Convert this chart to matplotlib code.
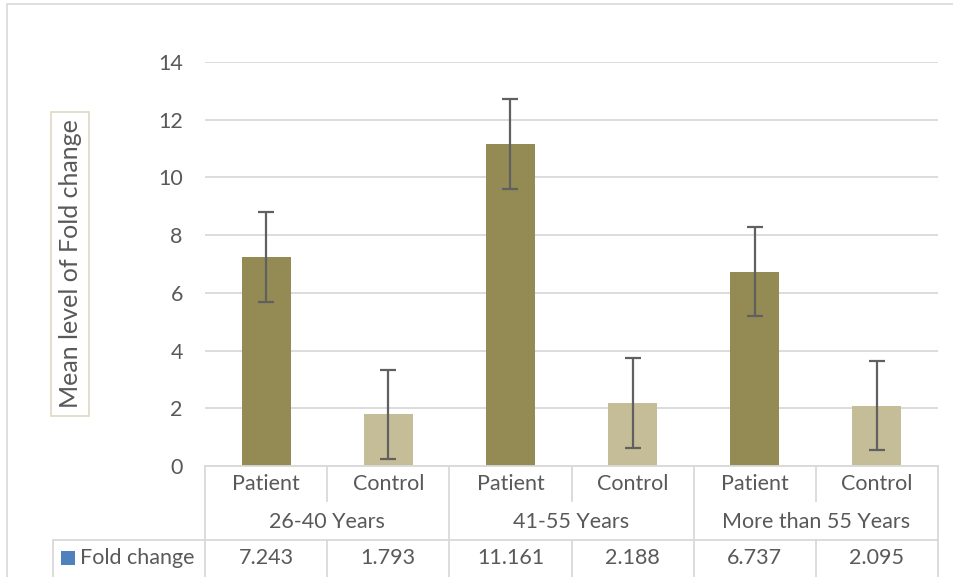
import matplotlib.pyplot as plt
from matplotlib.patches import Rectangle
from matplotlib.lines import Line2D
import matplotlib.transforms as mtransforms

plt.rcParams['font.family'] = ['Lato', 'DejaVu Sans']

# data
groups = ['26-40 Years', '41-55 Years', 'More than 55 Years']
subgroups = ['Patient', 'Control'] * 3
fold_change = [7.243, 1.793, 11.161, 2.188, 6.737, 2.095]
errors = [1.55, 1.55, 1.55, 1.55, 1.55, 1.55]
yticks = [0, 2, 4, 6, 8, 10, 12, 14]

patient_color = '#948A54'
control_color = '#C4BD97'
grid_color = '#D9D9D9'
text_color = '#595959'
fs = 15.5

W, H = 954, 577
fig = plt.figure(figsize=(W / 100, H / 100), dpi=100)

# outer chart border
fig.add_artist(Rectangle((7 / W, -0.1), 1.2, 1 - 4 / H + 0.1, transform=fig.transFigure,
                         fill=False, edgecolor=grid_color, linewidth=1.2))

left, right = 205 / W, 938 / W
bottom, top = 1 - 466 / H, 1 - 62 / H
ax = fig.add_axes([left, bottom, right - left, top - bottom])

x = list(range(len(fold_change)))
colors = [patient_color if s == 'Patient' else control_color for s in subgroups]
ax.bar(x, fold_change, width=0.4, color=colors, zorder=2)
ax.errorbar(x, fold_change, yerr=errors, fmt='none', ecolor='#606060',
            elinewidth=1.6, capsize=6, capthick=1.6, zorder=3)

ax.set_xlim(-0.5, len(x) - 0.5)
ax.set_ylim(0, 14)
ax.set_yticks(yticks)
ax.set_xticks([])
ax.tick_params(axis='y', length=0, labelsize=fs, labelcolor=text_color, pad=16)
ax.grid(axis='y', color=grid_color, linewidth=1.3, zorder=0)
for s in ax.spines.values():
    s.set_visible(False)

# y label in a box
ax.text(-0.184, 0.5, 'Mean level of Fold change', transform=ax.transAxes, rotation=90,
        ha='center', va='center', fontsize=18, color=text_color,
        bbox=dict(boxstyle='square,pad=0.3', facecolor='white', edgecolor='#DDD9C3', linewidth=1.2))

# data table below the axis
row_h = 37 / (top - bottom) / H
tr = mtransforms.blended_transform_factory(ax.transData, ax.transAxes)
lk = dict(color=grid_color, linewidth=1.3, clip_on=False, transform=tr)

y0 = 0
y1 = -row_h
y2 = -2 * row_h
y3 = -3 * row_h - 0.02
ax.add_line(Line2D([-0.5, len(x) - 0.5], [y0, y0], **lk))
ax.add_line(Line2D([-0.5, len(x) - 0.5], [y2, y2], **lk))
for b in range(len(x) + 1):
    xb = b - 0.5
    if b % 2 == 0:
        ax.add_line(Line2D([xb, xb], [y0, y3], **lk))
    else:
        ax.add_line(Line2D([xb, xb], [y0, y1 + 0.005], **lk))
        ax.add_line(Line2D([xb, xb], [y2, y3], **lk))

for i, s in enumerate(subgroups):
    ax.text(i, (y0 + y1) / 2, s, transform=tr, ha='center', va='center',
            fontsize=fs, color=text_color)
    ax.text(i, y2 - row_h / 2, f'{fold_change[i]:g}', transform=tr,
            ha='center', va='center', fontsize=fs, color=text_color)
for g, name in enumerate(groups):
    ax.text(2 * g + 0.5, (y1 + y2) / 2, name, transform=tr, ha='center', va='center',
            fontsize=fs, color=text_color)

# legend cell of the data table
legend_left = 53 / W
fig.add_artist(Line2D([legend_left, left], [1 - 540 / H, 1 - 540 / H],
                      transform=fig.transFigure, color=grid_color, linewidth=1.3))
fig.add_artist(Line2D([legend_left, legend_left], [1 - 540 / H, -0.01],
                      transform=fig.transFigure, color=grid_color, linewidth=1.3))
fig.add_artist(Rectangle((61 / W, 1 - 565 / H), 14 / W, 14 / H, transform=fig.transFigure,
                         facecolor='#4F81BD', edgecolor='none'))
fig.text(80 / W, 1 - 558 / H, 'Fold change', ha='left', va='center',
         fontsize=fs, color=text_color)

fig.savefig('out.png', dpi=100)
